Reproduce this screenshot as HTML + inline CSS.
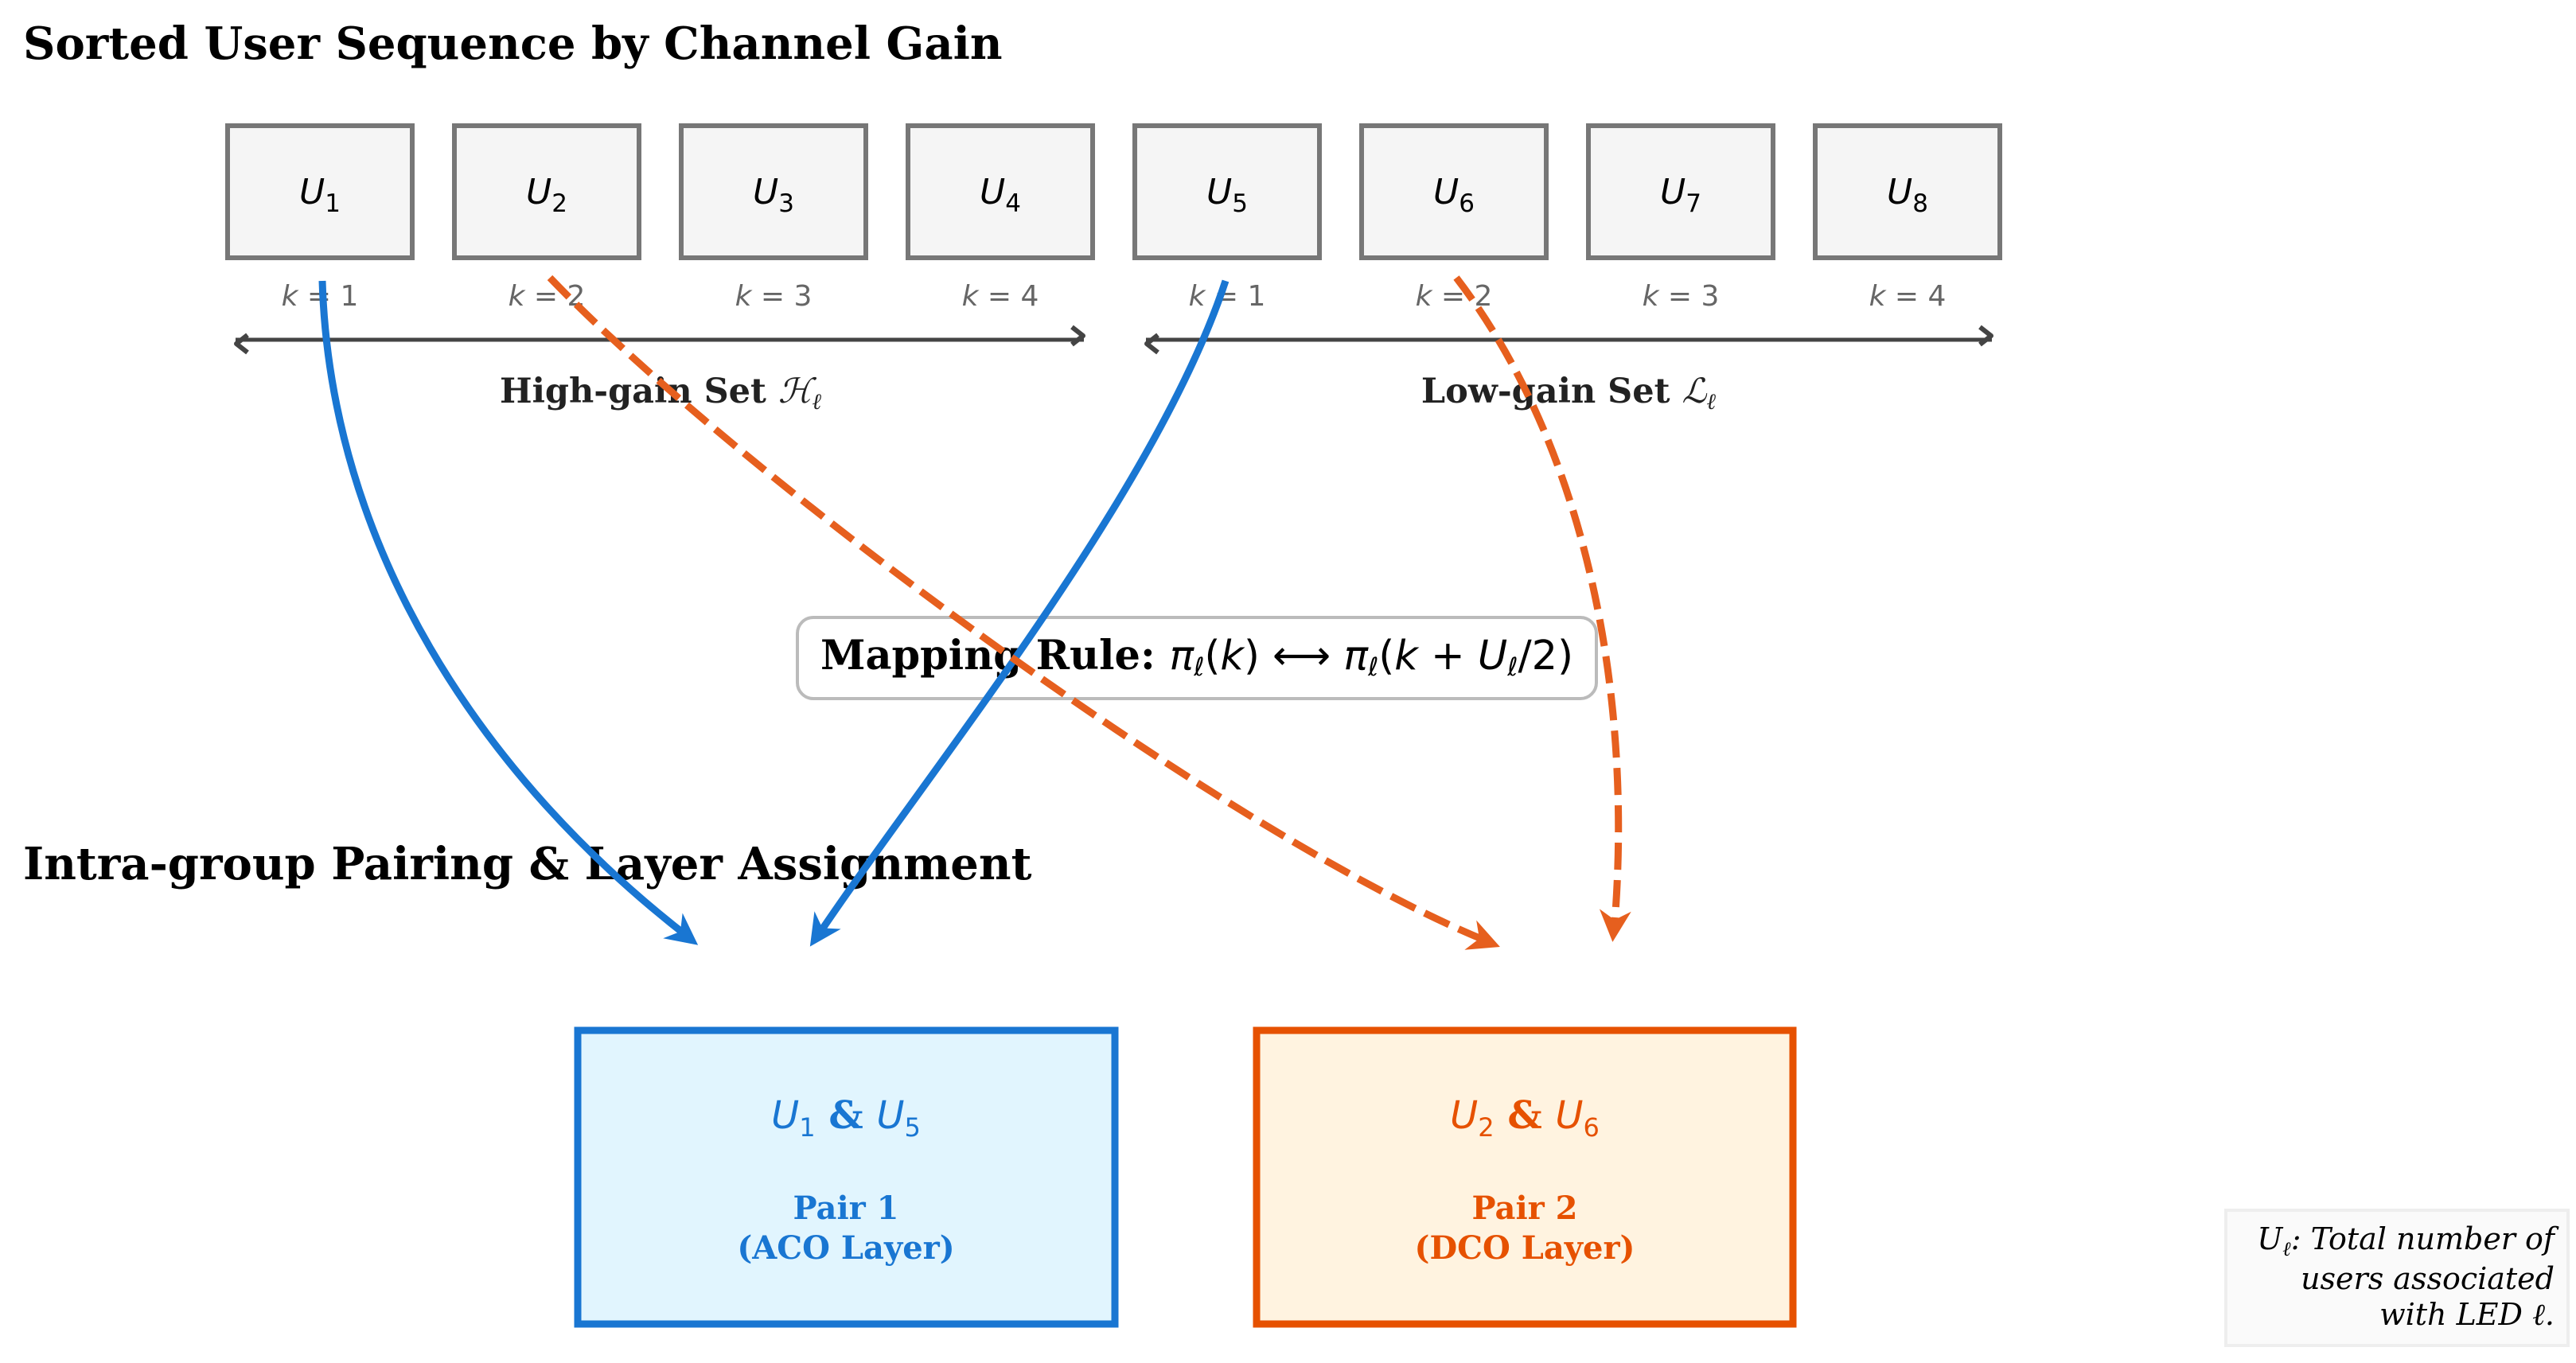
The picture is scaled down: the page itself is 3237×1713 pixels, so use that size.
<!DOCTYPE html>
<html><head><meta charset="utf-8"><style>
html,body{margin:0;padding:0;background:#fff}
svg{display:block}
.t{font-family:"DejaVu Serif","Liberation Serif",serif;font-weight:bold}
.m{font-family:"DejaVu Sans","Liberation Sans",sans-serif;font-style:italic}
</style></head><body>
<svg width="3237" height="1713" viewBox="0 0 3237 1713" xmlns="http://www.w3.org/2000/svg">
<defs>
<marker id="ab" markerWidth="10" markerHeight="10" refX="8" refY="5" orient="auto" markerUnits="userSpaceOnUse" viewBox="0 0 10 10" style="overflow:visible">
<path d="M0,0 L10,5 L0,10 L3,5 Z" fill="#1976d2" transform="scale(4) translate(-5,-3.6)"/>
</marker>
<marker id="ao" markerWidth="10" markerHeight="10" refX="8" refY="5" orient="auto" markerUnits="userSpaceOnUse" viewBox="0 0 10 10" style="overflow:visible">
<path d="M0,0 L10,5 L0,10 L3,5 Z" fill="#e65f1e" transform="scale(4) translate(-5,-3.6)"/>
</marker>
<marker id="ag" markerWidth="10" markerHeight="10" refX="5" refY="5" orient="auto-start-reverse" markerUnits="userSpaceOnUse" viewBox="0 0 10 10" style="overflow:visible">
<path d="M-10,-11 L4,0 L-10,11" fill="none" stroke="#444" stroke-width="6" stroke-linejoin="round"/>
</marker>
</defs>

<text class="t" x="29" y="74" font-size="56">Sorted User Sequence by Channel Gain</text>

<g fill="#f5f5f5" stroke="#777" stroke-width="6">
<rect x="286" y="158" width="232" height="166"/>
<rect x="571" y="158" width="232" height="166"/>
<rect x="856" y="158" width="232" height="166"/>
<rect x="1141" y="158" width="232" height="166"/>
<rect x="1426" y="158" width="232" height="166"/>
<rect x="1711" y="158" width="232" height="166"/>
<rect x="1996" y="158" width="232" height="166"/>
<rect x="2281" y="158" width="232" height="166"/>
</g>
<g class="m" font-size="44" text-anchor="middle" fill="#000">
<text x="402" y="256">U<tspan font-size="31" dy="10" font-style="normal">1</tspan></text>
<text x="687" y="256">U<tspan font-size="31" dy="10" font-style="normal">2</tspan></text>
<text x="972" y="256">U<tspan font-size="31" dy="10" font-style="normal">3</tspan></text>
<text x="1257" y="256">U<tspan font-size="31" dy="10" font-style="normal">4</tspan></text>
<text x="1542" y="256">U<tspan font-size="31" dy="10" font-style="normal">5</tspan></text>
<text x="1827" y="256">U<tspan font-size="31" dy="10" font-style="normal">6</tspan></text>
<text x="2112" y="256">U<tspan font-size="31" dy="10" font-style="normal">7</tspan></text>
<text x="2397" y="256">U<tspan font-size="31" dy="10" font-style="normal">8</tspan></text>
</g>
<g font-family="DejaVu Sans, Liberation Sans, sans-serif" font-size="36" text-anchor="middle" fill="#666">
<text x="402" y="384"><tspan font-style="italic">k</tspan> = 1</text>
<text x="687" y="384"><tspan font-style="italic">k</tspan> = 2</text>
<text x="972" y="384"><tspan font-style="italic">k</tspan> = 3</text>
<text x="1257" y="384"><tspan font-style="italic">k</tspan> = 4</text>
<text x="1542" y="384"><tspan font-style="italic">k</tspan> = 1</text>
<text x="1827" y="384"><tspan font-style="italic">k</tspan> = 2</text>
<text x="2112" y="384"><tspan font-style="italic">k</tspan> = 3</text>
<text x="2397" y="384"><tspan font-style="italic">k</tspan> = 4</text>
</g>
<line x1="296" y1="427" x2="1362" y2="427" stroke="#444" stroke-width="5" marker-start="url(#ag)" marker-end="url(#ag)"/>
<line x1="1440" y1="427" x2="2503" y2="427" stroke="#444" stroke-width="5" marker-start="url(#ag)" marker-end="url(#ag)"/>
<text class="t" x="830" y="506" font-size="43" text-anchor="middle" fill="#222">High-gain Set <tspan font-style="italic" font-weight="normal">ℋ</tspan><tspan font-size="28" dy="8" font-style="italic" font-weight="normal">ℓ</tspan></text>
<text class="t" x="1971" y="506" font-size="43" text-anchor="middle" fill="#222">Low-gain Set <tspan font-style="italic" font-weight="normal">ℒ</tspan><tspan font-size="28" dy="8" font-style="italic" font-weight="normal">ℓ</tspan></text>

<rect x="1002" y="776" width="1004" height="102" rx="20" fill="#fff" stroke="#bbb" stroke-width="4"/>
<text x="1504" y="841" font-size="51" text-anchor="middle"><tspan class="t">Mapping Rule: </tspan><tspan class="m">π<tspan font-size="32" dy="8">ℓ</tspan><tspan dy="-8" font-style="normal">(</tspan>k<tspan font-style="normal">) ⟷ </tspan>π<tspan font-size="32" dy="8">ℓ</tspan><tspan dy="-8" font-style="normal">(</tspan>k<tspan font-style="normal"> + </tspan>U<tspan font-size="32" dy="8">ℓ</tspan><tspan dy="-8" font-style="normal">/2)</tspan></tspan></text>

<text class="t" x="29" y="1105" font-size="56">Intra-group Pairing &amp; Layer Assignment</text>

<path d="M405,353 C415,685 602,975 868,1180" fill="none" stroke="#1976d2" stroke-width="9" marker-end="url(#ab)"/>
<path d="M1540,353 C1452,622 1162,975 1025,1180" fill="none" stroke="#1976d2" stroke-width="9" marker-end="url(#ab)"/>
<path d="M691,349 C934,602 1556,1058 1874,1185" fill="none" stroke="#e65f1e" stroke-width="9" stroke-dasharray="34,13" marker-end="url(#ao)"/>
<path d="M1830,349 C1992,560 2054,872 2028,1172" fill="none" stroke="#e65f1e" stroke-width="9" stroke-dasharray="34,13" marker-end="url(#ao)"/>

<rect x="726" y="1295" width="675" height="369" fill="#e1f5fe" stroke="#1976d2" stroke-width="9"/>
<rect x="1579" y="1295" width="674" height="369" fill="#fff3e0" stroke="#e65100" stroke-width="9"/>
<text x="1063" y="1418" font-size="48" text-anchor="middle" fill="#1976d2"><tspan class="m">U<tspan font-size="32" dy="10" font-style="normal">1</tspan></tspan><tspan class="t" dy="-10"> &amp; </tspan><tspan class="m">U<tspan font-size="32" dy="10" font-style="normal">5</tspan></tspan></text>
<text x="1916" y="1418" font-size="48" text-anchor="middle" fill="#e65100"><tspan class="m">U<tspan font-size="32" dy="10" font-style="normal">2</tspan></tspan><tspan class="t" dy="-10"> &amp; </tspan><tspan class="m">U<tspan font-size="32" dy="10" font-style="normal">6</tspan></tspan></text>
<g class="t" font-size="40" text-anchor="middle">
<text x="1063" y="1532" fill="#1976d2">Pair 1</text>
<text x="1063" y="1582" fill="#1976d2">(ACO Layer)</text>
<text x="1916" y="1532" fill="#e65100">Pair 2</text>
<text x="1916" y="1582" fill="#e65100">(DCO Layer)</text>
</g>

<rect x="2797" y="1521" width="430" height="170" fill="#fafafa" stroke="#eee" stroke-width="4"/>
<g font-family="DejaVu Serif, Liberation Serif, serif" font-style="italic" font-size="38" text-anchor="end" fill="#000">
<text x="3210" y="1570">U<tspan font-size="25" dy="8">ℓ</tspan><tspan dy="-8">: Total number of</tspan></text>
<text x="3210" y="1620">users associated</text>
<text x="3210" y="1665">with LED ℓ.</text>
</g>
</svg>
</body></html>
